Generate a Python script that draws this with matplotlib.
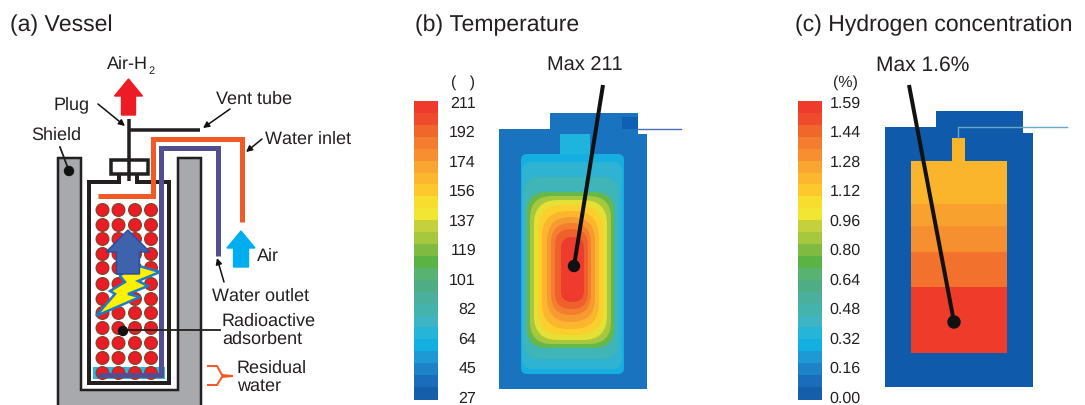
import matplotlib
matplotlib.use('Agg')
import matplotlib.pyplot as plt
from matplotlib.patches import Polygon, Rectangle, FancyBboxPatch, Circle

plt.rcParams['font.family'] = ['Liberation Sans', 'DejaVu Sans']
plt.rcParams['text.hinting'] = 'none'
plt.rcParams['text.hinting_factor'] = 1

# colour bars, top to bottom
bar_colors = ['#ee3b2d', '#ef4a2b', '#f0672c', '#f47d2f', '#f78f30', '#f9a531', '#fbb82e', '#fcc82c',
              '#f6dd2e', '#f2e633', '#c5d13c', '#a6c83f', '#80bb41', '#5bb344', '#58b271', '#4fad86',
              '#4aaf9c', '#44b3ae', '#3fb5c4', '#24b5d8', '#12b0e0', '#1d9ad4', '#1e82c8', '#1a6dba', '#155eaa']
temp_ticks = ['211', '192', '174', '156', '137', '119', '101', '82', '64', '45', '27']
conc_ticks = ['1.59', '1.44', '1.28', '1.12', '0.96', '0.80', '0.64', '0.48', '0.32', '0.16', '0.00']

# temperature contours, outer to inner: x0, x1, y0, y1, rounding, colour
temp_bands = [
    (521, 624, 155, 375, 6, '#14aee0'),
    (522, 622, 163, 370, 10, '#2fb3d2'),
    (524, 618, 178, 360, 16, '#3fb5b8'),
    (527, 614, 193, 349, 20, '#66b84a'),
    (530, 611, 197, 345, 22, '#a6c83f'),
    (534, 607, 201, 341, 24, '#e6df35'),
    (538, 603, 206, 336, 25, '#fbd02c'),
    (542, 599, 212, 330, 26, '#fbb52e'),
    (547, 595, 218, 323, 24, '#f79a30'),
    (551, 591, 224, 316, 20, '#f47d2f'),
    (555, 588, 230, 310, 16, '#f0602c'),
    (561, 584, 238, 303, 11, '#ee3b2d'),
]

# hydrogen layers: y0, y1, colour
conc_bands = [
    (162, 205, '#fbb52d'),
    (205, 227, '#f9a12f'),
    (227, 253, '#f68f2f'),
    (253, 288, '#f2712c'),
    (288, 354, '#ee3b2a'),
]

# adsorbent balls
ball_x = [102.5, 118.5, 135, 151]
ball_y = [211, 226, 240, 255, 269, 285, 300, 314, 329, 344, 359, 374]

# vessel outline, pipes and so on
shield = [(58, 406), (58, 159), (81, 159), (81, 391), (178, 391), (178, 159), (201, 159), (201, 406)]
vessel = [(119, 174), (119, 183), (89, 183), (89, 384), (169, 384), (169, 183), (137, 183), (137, 174)]
inlet = [(98, 197), (153, 197), (153, 140), (242, 140), (242, 223)]
outlet = [(98, 376), (161, 376), (161, 149), (218, 149), (218, 257)]
bolt = [(132, 265), (160, 273), (138, 282), (148, 287), (128, 295), (140, 298),
        (96, 317), (115, 295), (110, 292), (125, 283), (120, 277)]

fig = plt.figure(figsize=(10.85, 4.06), dpi=100)
ax = fig.add_axes([0, 0, 1, 1])
ax.set_xlim(0, 1085)
ax.set_ylim(406, 0)
ax.axis('off')


def px(w):
    return w * 0.72


def pipe(points, color, w, z=3):
    ax.plot([p[0] for p in points], [p[1] for p in points], color=color, lw=px(w),
            solid_capstyle='butt', solid_joinstyle='miter', zorder=z)


def up_arrow(cx, tip, base, bottom, head, shaft, color, edge=None, z=5):
    pts = [(cx, tip), (cx + head, base), (cx + shaft, base), (cx + shaft, bottom),
           (cx - shaft, bottom), (cx - shaft, base), (cx - head, base)]
    ax.add_patch(Polygon(pts, closed=True, facecolor=color, edgecolor=edge or color, lw=1, zorder=z))


def pointer(x0, y0, x1, y1):
    ax.annotate('', xy=(x1, y1), xytext=(x0, y0), zorder=8,
                arrowprops=dict(arrowstyle='-|>', color='#111111', lw=1.1, mutation_scale=9,
                                shrinkA=0, shrinkB=0))


def label(x, y, s, size=13.3, ha='left', va='center'):
    # text sits a little high with va=center, nudge it down
    ax.text(x, y + 1.5, s, fontsize=size, ha=ha, va=va, color='#231f20', zorder=10)


def colorbar(x0, x1, ticks, tick_x):
    n = len(bar_colors)
    h = (400 - 102) / n
    for i, c in enumerate(bar_colors):
        ax.add_patch(Rectangle((x0, 102 + i * h), x1 - x0, h + 0.5, facecolor=c, edgecolor='none'))
    for i, t in enumerate(ticks):
        label(tick_x, 102 + i * 29.5, t, size=11.7, ha='right')


# (a) vessel
ax.add_patch(Polygon(shield, closed=False, facecolor='#a7a9ac', edgecolor='#231f20', lw=px(2.5), zorder=1))
ax.add_patch(Rectangle((93, 368), 72, 12, facecolor='#29b6e8', edgecolor='none', zorder=2))
for y in ball_y:
    for x in ball_x:
        ax.add_patch(Circle((x, y), 6.2, facecolor='#ed1c24', edgecolor='#9b3a2a', lw=px(1.6), zorder=2.5))
pipe(vessel, '#231f20', 4)
pipe(inlet, '#f15a24', 5)
pipe(outlet, '#524e8f', 5)
ax.add_patch(Rectangle((111, 161), 37, 14, facecolor='white', edgecolor='#231f20', lw=px(3.5), zorder=4))
pipe([(129, 120), (129, 182)], '#231f20', 3.5, z=4)
pipe([(129, 131), (200, 131)], '#231f20', 3.5, z=4)
ax.add_patch(Polygon(bolt, closed=True, facecolor='#fff200', edgecolor='#1f7cc2', lw=px(2.5), zorder=5))
up_arrow(128, 231, 253, 275, 22, 11.5, '#3f62ad', '#2e4a9e')
up_arrow(128.5, 80, 97, 116, 14, 7, '#ed1c24')
up_arrow(241, 232, 249, 268, 14, 7.5, '#00aeef')

pointer(98, 105, 125, 127)
pointer(230, 110, 203, 129)
pointer(262, 140, 246, 153)
pointer(224, 283, 217, 259)
ax.plot([60, 69], [148, 172], color='#231f20', lw=1.3, zorder=8)
ax.add_patch(Circle((69, 172), 4.5, color='#111111', zorder=8))
ax.plot([123, 220], [331, 331], color='#231f20', lw=1.3, zorder=8)
ax.add_patch(Circle((123, 332), 4.5, color='#111111', zorder=8))
pipe([(207, 367), (217, 367), (222, 376), (233, 377), (222, 378), (217, 386), (207, 386)], '#f15a24', 2, z=8)

label(10, 24, '(a) Vessel', size=16.6)
label(107, 63, 'Air-H', size=13.3)
label(148, 70, '2', size=8)
label(54, 103, 'Plug')
label(216, 98, 'Vent tube')
label(31, 134, 'Shield')
label(265, 138, 'Water inlet')
label(257, 255, 'Air')
label(212, 295, 'Water outlet')
label(222, 320, 'Radioactive')
label(222, 338, 'adsorbent')
label(237, 367, 'Residual')
label(237, 385, 'water')

# (b) temperature
label(415, 24, '(b) Temperature', size=16.6)
colorbar(414, 438, temp_ticks, 476)
label(463, 81, '(   )', size=11.7, ha='center')
ax.add_patch(Polygon([(499, 390), (499, 130), (550, 130), (550, 114), (638, 114), (638, 135), (647, 135), (647, 390)],
                     closed=True, facecolor='#1a73bf', edgecolor='none'))
ax.add_patch(Rectangle((622, 118), 16, 12, facecolor='#0f5fb5', edgecolor='none'))
ax.plot([638, 681], [130, 130], color='#4a6fb5', lw=1)
ax.add_patch(Rectangle((560, 135), 30, 25, facecolor='#1fb4de', edgecolor='none'))
for x0, x1, y0, y1, r, c in temp_bands:
    ax.add_patch(FancyBboxPatch((x0 + r, y0 + r), x1 - x0 - 2 * r, y1 - y0 - 2 * r,
                                boxstyle='round,pad=%f,rounding_size=%f' % (r, r),
                                facecolor=c, edgecolor='none'))
ax.plot([603, 574], [86, 267], color='#111111', lw=px(4), solid_capstyle='butt')
ax.add_patch(Circle((574, 267), 5.5, color='#111111'))
label(585, 64, 'Max 211', size=14.5, ha='center')

# (c) hydrogen concentration
label(795, 24, '(c) Hydrogen concentration', size=16.6)
colorbar(798, 822, conc_ticks, 861)
label(845, 81, '(%)', size=11.7, ha='center')
ax.add_patch(Polygon([(885, 388), (885, 128), (936, 128), (936, 112), (1023, 112), (1023, 134), (1033, 134), (1033, 388)],
                     closed=True, facecolor='#0f5aab', edgecolor='none'))
ax.plot([958, 958, 1067], [139, 128, 128], color='#6aa7c4', lw=1)
ax.add_patch(Rectangle((952, 139), 13, 23, facecolor='#fbb52d', edgecolor='none'))
for y0, y1, c in conc_bands:
    ax.add_patch(Rectangle((911, y0), 96, y1 - y0, facecolor=c, edgecolor='none'))
ax.plot([909, 954], [86, 323], color='#111111', lw=px(4), solid_capstyle='butt')
ax.add_patch(Circle((954, 323), 6, color='#111111'))
label(923, 64, 'Max 1.6%', size=14.8, ha='center')

fig.savefig('out.png', dpi=100)
